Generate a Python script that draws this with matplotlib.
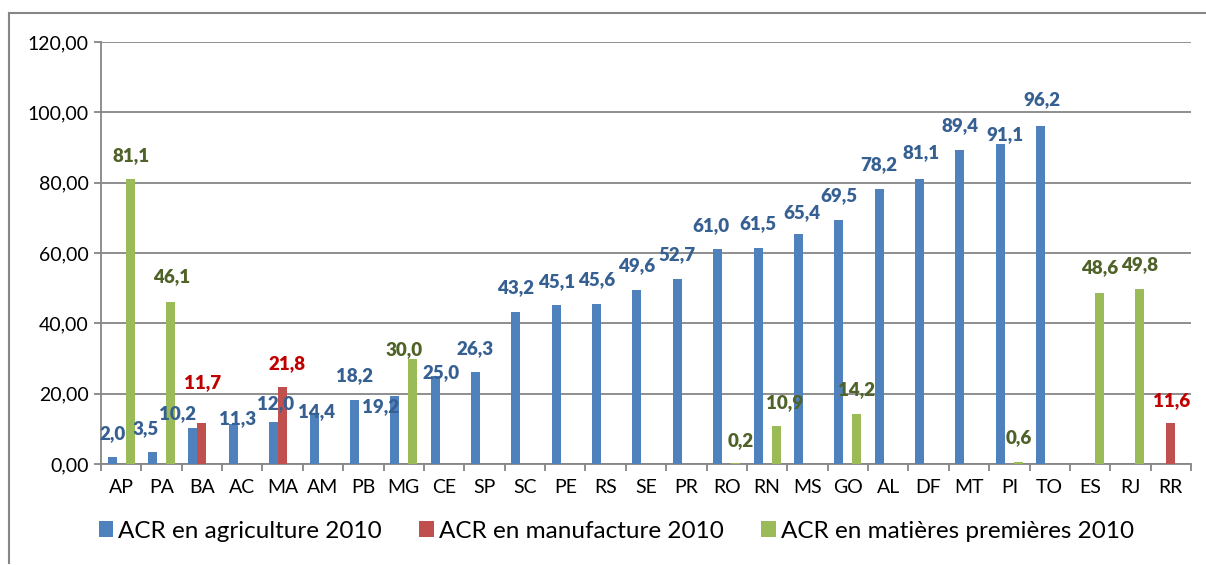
import numpy as np
import matplotlib
matplotlib.use("Agg")
import matplotlib.pyplot as plt
from matplotlib.patches import Patch
from matplotlib.lines import Line2D

categories = ["AP", "PA", "BA", "AC", "MA", "AM", "PB", "MG", "CE", "SP", "SC", "PE", "RS", "SE",
              "PR", "RO", "RN", "MS", "GO", "AL", "DF", "MT", "PI", "TO", "ES", "RJ", "RR"]
nan = np.nan
agriculture = [2.0, 3.5, 10.2, 11.3, 12.0, 14.4, 18.2, 19.2, 25.0, 26.3, 43.2, 45.1, 45.6, 49.6,
               52.7, 61.0, 61.5, 65.4, 69.5, 78.2, 81.1, 89.4, 91.1, 96.2, nan, nan, nan]
manufacture = [nan, nan, 11.7, nan, 21.8, nan, nan, nan, nan, nan, nan, nan, nan, nan,
               nan, nan, nan, nan, nan, nan, nan, nan, nan, nan, nan, nan, 11.6]
matieres = [81.1, 46.1, nan, nan, nan, nan, nan, 30.0, nan, nan, nan, nan, nan, nan,
            nan, 0.2, 10.9, nan, 14.2, nan, nan, nan, 0.6, nan, 48.6, 49.8, nan]
series_names = ["ACR en agriculture 2010", "ACR en manufacture 2010", "ACR en matières premières 2010"]
yticks = [0, 20, 40, 60, 80, 100, 120]

# styling
bar_colors = ["#4F81BD", "#C0504D", "#9BBB59"]
label_colors = ["#376092", "#C00000", "#4F6228"]
grid_col = "#868686"
FONT = "Lato"

# label offsets in pixels (dx, dy) for labels moved in the original
default_off = (0, 24)
label_offsets = {
    0: {"AP": (0, 23), "PA": (-7, 23), "BA": (-15, 15), "AC": (4, 6), "MA": (2, 18), "AM": (3, 2),
        "MG": (-14, -10), "CE": (6, 3), "SP": (0, 23), "RO": (-7, 24), "MS": (3, 21),
        "PI": (5, 9), "DF": (1, 26), "TO": (1, 26)},
    1: {"BA": (1, 40), "MA": (4, 24), "RR": (1, 23)},
    2: {"MG": (-9, 9), "RO": (5, 23), "RN": (8, 23), "PA": (1, 25), "ES": (1, 25), "AP": (1, 23)},
}

fig = plt.figure(figsize=(12.06, 5.65), dpi=100)
ax = fig.add_axes([101 / 1206, (565 - 464) / 565, (1191 - 101) / 1206, (464 - 42) / 565])

x = np.arange(len(categories))
w = 0.223
offsets = [-w, 0.0, w]
data = [agriculture, manufacture, matieres]

for si, vals in enumerate(data):
    vals = np.array(vals, dtype=float)
    mask = ~np.isnan(vals)
    xs = x[mask] + offsets[si]
    ax.bar(xs, vals[mask], width=w, color=bar_colors[si], zorder=3, linewidth=0)
    for xi, v, cat in zip(xs, vals[mask], np.array(categories)[mask]):
        dx, dy = label_offsets[si].get(cat, default_off)
        ax.annotate(f"{v:.1f}".replace(".", ","), xy=(xi, v), xytext=(dx, dy),
                    textcoords="offset pixels", ha="center", va="center",
                    fontsize=13.5, fontweight="heavy", color=label_colors[si],
                    family=FONT, zorder=5)

ax.set_xlim(-0.5, len(categories) - 0.5)
ax.set_ylim(0, 120)
ax.set_yticks(yticks)
ax.set_yticklabels([f"{t:.2f}".replace(".", ",") for t in yticks], fontsize=14, family=FONT)
ax.yaxis.grid(True, color=grid_col, linewidth=1.3, zorder=0)
ax.set_axisbelow(True)

ax.set_xticks(x)
ax.set_xticklabels(categories, fontsize=14, family=FONT)
ax.set_xticks(np.arange(-0.5, len(categories), 1.0), minor=True)
ax.tick_params(axis="x", which="major", length=0, pad=11)
ax.tick_params(axis="x", which="minor", length=5, width=1.3, color=grid_col)
ax.tick_params(axis="y", length=5, width=1.3, color=grid_col, pad=4)

for s in ["top", "right"]:
    ax.spines[s].set_visible(False)
for s in ["left", "bottom"]:
    ax.spines[s].set_color(grid_col)
    ax.spines[s].set_linewidth(1.3)

handles = [Patch(facecolor=c, edgecolor="none") for c in bar_colors]
fig.legend(handles, series_names, loc="center", bbox_to_anchor=(0.511, 1 - 531 / 565), ncol=3,
           frameon=False, prop={"family": FONT, "size": 17.5}, handlelength=0.6, handleheight=0.6,
           handletextpad=0.2, columnspacing=1.55, borderaxespad=0)

# outer chart border (left and top visible)
fig.add_artist(Line2D([9 / 1206, 9 / 1206], [0.003, 1 - 13 / 565], transform=fig.transFigure,
                      color=grid_col, linewidth=1.5))
fig.add_artist(Line2D([9 / 1206, 1.0], [1 - 13 / 565, 1 - 13 / 565], transform=fig.transFigure,
                      color=grid_col, linewidth=1.5))

fig.savefig("out.png", dpi=100, facecolor="white")
